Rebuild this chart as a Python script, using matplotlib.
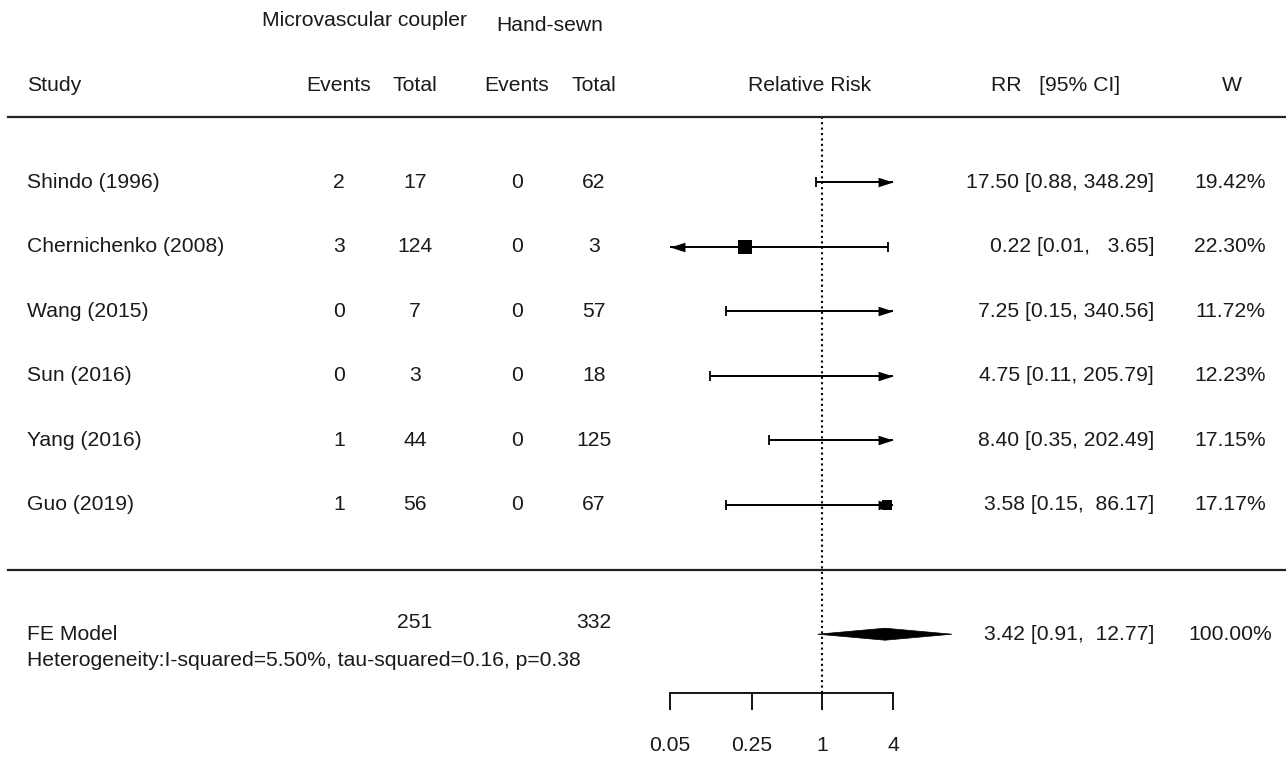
import matplotlib
matplotlib.use('Agg')
import matplotlib.pyplot as plt
from matplotlib.transforms import blended_transform_factory
from matplotlib.patches import Polygon
from matplotlib.ticker import FixedLocator, FixedFormatter, NullLocator
import numpy as np

plt.rcParams['font.family'] = ['Liberation Sans', 'DejaVu Sans']

# ---------------- data ----------------
studies = ['Shindo (1996)', 'Chernichenko (2008)', 'Wang (2015)',
           'Sun (2016)', 'Yang (2016)', 'Guo (2019)']
events_mc = [2, 3, 0, 0, 1, 1]
total_mc = [17, 124, 7, 3, 44, 56]
events_hs = [0, 0, 0, 0, 0, 0]
total_hs = [62, 3, 57, 18, 125, 67]
rr = [17.50, 0.22, 7.25, 4.75, 8.40, 3.58]
ci_low = [0.88, 0.01, 0.15, 0.11, 0.35, 0.15]
ci_high = [348.29, 3.65, 340.56, 205.79, 202.49, 86.17]
weights = [19.42, 22.30, 11.72, 12.23, 17.15, 17.17]

fe_rr = 3.42
fe_low = 0.91
fe_high = 12.77
fe_weight = 100.00
sum_total_mc = 251
sum_total_hs = 332
heterogeneity = 'Heterogeneity:I-squared=5.50%, tau-squared=0.16, p=0.38'

tick_values = [0.05, 0.25, 1, 4]
tick_labels = ['0.05', '0.25', '1', '4']

# ---------------- layout ----------------
W, H = 1286, 757
FS = 15.2
TXT = '#1a1a1a'
row0_px = 182.0
row_h = 64.6
k = len(studies)
y_top = k + row0_px / row_h
y_bot = k - (H - row0_px) / row_h

fig = plt.figure(figsize=(W / 100, H / 100), dpi=100)
fig.patch.set_facecolor('white')
px_l, px_r = 670, 893
ax = fig.add_axes([px_l / W, 0, (px_r - px_l) / W, 1])
ax.set_facecolor('none')
ax.set_xscale('log')
xmin, xmax = tick_values[0], tick_values[-1]
ax.set_xlim(xmin, xmax)
ax.set_ylim(y_bot, y_top)

axis_y = -1.91
for s in ['top', 'right', 'left']:
    ax.spines[s].set_visible(False)
ax.spines['bottom'].set_position(('data', axis_y))
ax.spines['bottom'].set_linewidth(1.3)
ax.xaxis.set_major_locator(FixedLocator(tick_values))
ax.xaxis.set_major_formatter(FixedFormatter(tick_labels))
ax.xaxis.set_minor_locator(NullLocator())
ax.tick_params(axis='x', direction='out', length=12.2, width=1.3,
               pad=19, labelsize=FS, labelcolor=TXT)
ax.set_yticks([])

blend = blended_transform_factory(fig.transFigure, ax.transData)

def ftext(xpx, y, s, ha='center', va='center'):
    ax.text(xpx / W, y, s, transform=blend, ha=ha, va=va,
            fontsize=FS, color=TXT, clip_on=False)

# arrow markers (tip at the data point)
right_arrow = [(0, 0), (-1, 0.32), (-1, -0.32), (0, 0)]
left_arrow = [(0, 0), (1, 0.32), (1, -0.32), (0, 0)]
arrow_ms = 21.5

ys = np.arange(k, 0, -1)
lw = 1.4
cap_ms = 6.5
for i, y in enumerate(ys):
    lo, hi, est = ci_low[i], ci_high[i], rr[i]
    lo_c, hi_c = max(lo, xmin), min(hi, xmax)
    ax.plot([lo_c, hi_c], [y, y], color='black', lw=lw, clip_on=False,
            solid_capstyle='butt')
    if lo >= xmin:
        ax.plot([lo], [y], marker='|', ms=cap_ms, mew=1.3, color='black', clip_on=False)
    else:
        ax.plot([xmin], [y], marker=left_arrow, ms=arrow_ms, mew=0,
                color='black', clip_on=False)
    if hi <= xmax:
        ax.plot([hi], [y], marker='|', ms=cap_ms, mew=1.3, color='black', clip_on=False)
    else:
        ax.plot([xmax], [y], marker=right_arrow, ms=arrow_ms, mew=0,
                color='black', clip_on=False)
    if xmin <= est <= xmax:
        ax.plot([est], [y], marker='s', ms=weights[i] * 0.42, mew=0,
                color='black', clip_on=False)

# summary diamond
fe_y = -1
dh = 6 / row_h
ax.add_patch(Polygon([(fe_low, fe_y), (fe_rr, fe_y + dh), (fe_high, fe_y),
                      (fe_rr, fe_y - dh)], closed=True, facecolor='black',
                     edgecolor='black', lw=0.5, clip_on=False))

# reference line
ax.plot([1, 1], [axis_y, k + 1], color='black', lw=1.5,
        ls=(0, (1, 1.6)), clip_on=False)

# horizontal rules
for yy in [k + 1, 0]:
    ax.plot([8 / W, 1], [yy, yy], transform=blend, color='#222222',
            lw=1.6, clip_on=False)

# headers
ftext(365, k + 2.5, 'Microvascular coupler')
ftext(550, k + 2.43, 'Hand-sewn')
ftext(27, k + 1.5, 'Study', ha='left')
ftext(339, k + 1.5, 'Events')
ftext(415, k + 1.5, 'Total')
ftext(517, k + 1.5, 'Events')
ftext(594, k + 1.5, 'Total')
ftext(810, k + 1.5, 'Relative Risk')
ftext(1056, k + 1.5, 'RR   [95% CI]')
ftext(1232, k + 1.5, 'W')

# rows
for i, y in enumerate(ys):
    ftext(27, y, studies[i], ha='left')
    ftext(339, y, str(events_mc[i]))
    ftext(415, y, str(total_mc[i]))
    ftext(517, y, str(events_hs[i]))
    ftext(594, y, str(total_hs[i]))
    ftext(1154, y, f'{rr[i]:.2f} [{ci_low[i]:.2f}, {ci_high[i]:>6.2f}]', ha='right')
    ftext(1230, y, f'{weights[i]:.2f}%')

# summary
ftext(27, fe_y, 'FE Model', ha='left')
ftext(415, fe_y + 0.18, str(sum_total_mc))
ftext(594, fe_y + 0.18, str(sum_total_hs))
ftext(1154, fe_y, f'{fe_rr:.2f} [{fe_low:.2f}, {fe_high:>6.2f}]', ha='right')
ftext(1230, fe_y, f'{fe_weight:.2f}%')
ftext(27, fe_y - 0.40, heterogeneity, ha='left')

fig.savefig('out.png', dpi=100, facecolor='white')
